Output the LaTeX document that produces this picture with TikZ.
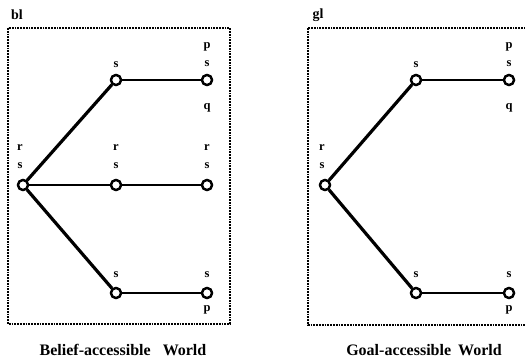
\documentclass[tikz,border=0pt]{standalone}
\usepackage{fontspec}
\setmainfont{Liberation Serif}
\begin{document}
\begin{tikzpicture}[x=1pt,y=-1pt,
  world/.style={circle,draw,fill=white,line width=2.3pt,minimum size=10pt,inner sep=0pt},
  link/.style={line width=3.2pt},
  flat/.style={line width=2.6pt},
  lbl/.style={font=\fontsize{12.5}{12.5}\selectfont\bfseries,inner sep=0pt},
  ttl/.style={font=\fontsize{16}{16}\selectfont\bfseries,inner sep=0pt},
  tag/.style={font=\fontsize{14}{14}\selectfont\bfseries,inner sep=0pt},
  frame/.style={line width=1.8pt,densely dotted}]
\useasboundingbox (0,0) rectangle (525,359);
% frames
\draw[frame] (8,28) rectangle (230,324);
\draw[frame] (308,28) rectangle (530,325);
\node[tag] (bl) at (17,15) {bl};
\node[tag] (gl) at (318,15) {gl};
% left worlds
\node[world] (a0) at (23,185) {};
\node[world] (a1) at (116,80) {};
\node[world] (a2) at (207,80) {};
\node[world] (a3) at (116,185) {};
\node[world] (a4) at (207,185) {};
\node[world] (a5) at (116,293) {};
\node[world] (a6) at (207,293) {};
\draw[link] (a0) -- (a1);
\draw[flat] (a1) -- (a2);
\draw[flat] (a0) -- (a3);
\draw[flat] (a3) -- (a4);
\draw[link] (a0) -- (a5);
\draw[flat] (a5) -- (a6);
% right worlds
\node[world] (b0) at (325,185) {};
\node[world] (b1) at (416,80) {};
\node[world] (b2) at (509,80) {};
\node[world] (b5) at (416,293) {};
\node[world] (b6) at (509,293) {};
\draw[link] (b0) -- (b1);
\draw[flat] (b1) -- (b2);
\draw[link] (b0) -- (b5);
\draw[flat] (b5) -- (b6);
% redraw circles on top
\foreach \n in {a0,a1,a2,a3,a4,a5,a6,b0,b1,b2,b5,b6}{\node[world] at (\n) {};}
% left labels
\node[lbl] (a1s) at (116,65) {s};
\node[lbl] (a2p) at (207,47) {p};
\node[lbl] (a2s) at (207,64) {s};
\node[lbl] (a2q) at (207,108) {q};
\node[lbl] (a0r) at (20,148) {r};
\node[lbl] (a0s) at (20,166) {s};
\node[lbl] (a3r) at (116,148) {r};
\node[lbl] (a3s) at (116,166) {s};
\node[lbl] (a4r) at (207,148) {r};
\node[lbl] (a4s) at (207,166) {s};
\node[lbl] (a5s) at (116,275) {s};
\node[lbl] (a6s) at (207,275) {s};
\node[lbl] (a6p) at (207,310) {p};
% right labels
\node[lbl] (b1s) at (416,65) {s};
\node[lbl] (b2p) at (509,47) {p};
\node[lbl] (b2s) at (509,64) {s};
\node[lbl] (b2q) at (509,108) {q};
\node[lbl] (b0r) at (322,148) {r};
\node[lbl] (b0s) at (322,166) {s};
\node[lbl] (b5s) at (416,275) {s};
\node[lbl] (b6s) at (509,275) {s};
\node[lbl] (b6p) at (509,310) {p};
% titles
\node[ttl] (t1) at (123,350) {Belief-accessible\hspace{12pt}World};
\node[ttl] (t2) at (424,350) {Goal-accessible\hspace{7pt}World};
\end{tikzpicture}
\end{document}
